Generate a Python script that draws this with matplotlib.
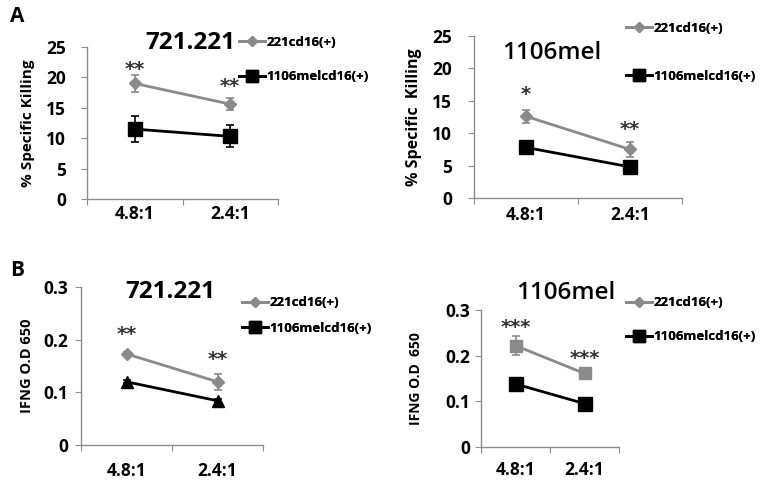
import matplotlib
matplotlib.use("Agg")
import matplotlib.pyplot as plt
from matplotlib.lines import Line2D

plt.rcParams['font.family'] = ['Open Sans', 'DejaVu Sans']

# ---- data ----
ratios = ["4.8:1", "2.4:1"]
series_names = ["221cd16(+)", "1106melcd16(+)"]

kill_721_221 = [19.0, 15.6]
kill_721_221_err = [1.4, 1.0]
kill_721_1106 = [11.5, 10.3]
kill_721_1106_err = [2.2, 1.8]
kill_721_stars = ["**", "**"]

kill_mel_221 = [12.6, 7.5]
kill_mel_221_err = [1.0, 1.1]
kill_mel_1106 = [7.8, 4.8]
kill_mel_1106_err = [1.0, 0.4]
kill_mel_stars = ["*", "**"]

ifng_721_221 = [0.173, 0.120]
ifng_721_221_err = [0.004, 0.015]
ifng_721_1106 = [0.120, 0.084]
ifng_721_1106_err = [0.003, 0.003]
ifng_721_stars = ["**", "**"]

ifng_mel_221 = [0.222, 0.161]
ifng_mel_221_err = [0.020, 0.010]
ifng_mel_1106 = [0.138, 0.095]
ifng_mel_1106_err = [0.004, 0.004]
ifng_mel_stars = ["***", "***"]

GRAY = "#8a8a8a"
BLACK = "#000000"
SPINE = "#8c8c8c"

fig = plt.figure(figsize=(7.68, 4.83), dpi=100)


def panel(rect, gray_vals, gray_err, black_vals, black_err, stars,
          ylim, yticks, yticklabels, ylabel, title, title_xy, title_bold,
          gray_marker, black_marker, star_offsets, leg_y, leg_x,
          ylabel_x, ylabel_size, xpad, ypad):
    ax = fig.add_axes(rect)
    xs = [0.5, 1.5]
    ax.errorbar(xs, gray_vals, yerr=gray_err, color=GRAY, lw=2,
                marker=gray_marker[0], ms=gray_marker[1], ecolor=GRAY,
                elinewidth=1.2, capsize=3, capthick=1.2, zorder=3)
    ax.errorbar(xs, black_vals, yerr=black_err, color=BLACK, lw=2,
                marker=black_marker[0], ms=black_marker[1], ecolor=BLACK,
                elinewidth=1.2, capsize=3, capthick=1.2, zorder=4)
    for x, v, e, s, off in zip(xs, gray_vals, gray_err, stars, star_offsets):
        ax.annotate(s, (x, v + e), xytext=(0, off),
                    textcoords="offset points", ha="center", va="bottom",
                    fontsize=14, fontweight="bold", color="#333333",
                    family="DejaVu Sans")
    ax.set_xlim(0, 2)
    ax.set_ylim(*ylim)
    ax.set_xticks([0, 1, 2])
    ax.set_xticklabels([])
    ax.set_xticks(xs, minor=True)
    ax.set_xticklabels(ratios, minor=True, fontsize=12.5, fontweight="bold")
    ax.tick_params(axis="x", which="minor", length=0, pad=xpad)
    ax.tick_params(axis="x", which="major", length=4, color=SPINE, direction="out")
    ax.set_yticks(yticks)
    ax.set_yticklabels(yticklabels, fontsize=12.5, fontweight="bold")
    ax.tick_params(axis="y", length=4, color=SPINE, pad=ypad)
    for side in ["top", "right"]:
        ax.spines[side].set_visible(False)
    for side in ["left", "bottom"]:
        ax.spines[side].set_color(SPINE)
        ax.spines[side].set_linewidth(1)
    ax.set_ylabel(ylabel, fontsize=ylabel_size, fontweight="bold")
    ax.yaxis.set_label_coords(ylabel_x, 0.5)
    fig.text(title_xy[0], title_xy[1], title, fontsize=17.5,
             fontweight="bold" if title_bold else "semibold",
             ha="center", va="center")
    handles = [Line2D([], [], color=GRAY, lw=2, marker="D", ms=5),
               Line2D([], [], color=BLACK, lw=2, marker="s", ms=8)]
    for h, name, y in zip(handles, series_names, leg_y):
        leg = fig.legend([h], [name], loc="center left",
                         bbox_to_anchor=(leg_x, y), frameon=False,
                         handlelength=2.0, handletextpad=0.1,
                         borderpad=0, borderaxespad=0,
                         prop={"size": 9.5, "weight": "bold"})
        fig.add_artist(leg)
    return ax


W, H = 768.0, 483.0

panel([87 / W, 1 - 199 / H, 191 / W, 152 / H],
      kill_721_221, kill_721_221_err, kill_721_1106, kill_721_1106_err,
      kill_721_stars, (0, 25), [0, 5, 10, 15, 20, 25],
      ["0", "5", "10", "15", "20", "25"], "% Specific Killing",
      "721.221", (190 / W, 1 - 43 / H), True, ("D", 6), ("s", 10),
      [-3, 1.5], [1 - 42 / H, 1 - 77 / H], 239 / W, -0.27, 11, 4, 11)

panel([474 / W, 1 - 198 / H, 208 / W, 162 / H],
      kill_mel_221, kill_mel_221_err, kill_mel_1106, kill_mel_1106_err,
      kill_mel_stars, (0, 25), [0, 5, 10, 15, 20, 25],
      ["0", "5", "10", "15", "20", "25"], "% Specific  Killing",
      "1106mel", (552 / W, 1 - 53 / H), False, ("D", 6), ("s", 10),
      [4, 2], [1 - 28 / H, 1 - 76 / H], 626 / W, -0.25, 11.5, 6, 12)

panel([81 / W, 1 - 445 / H, 182 / W, 158 / H],
      ifng_721_221, ifng_721_221_err, ifng_721_1106, ifng_721_1106_err,
      ifng_721_stars, (0, 0.3), [0, 0.1, 0.2, 0.3],
      ["0", "0.1", "0.2", "0.3"], "IFNG O.D 650",
      "721.221", (170 / W, 1 - 292 / H), True, ("D", 6), ("^", 9),
      [5.5, 3.5], [1 - 303 / H, 1 - 328 / H], 242 / W, -0.26, 10.5, 12, 5)

panel([481 / W, 1 - 447 / H, 138 / W, 137 / H],
      ifng_mel_221, ifng_mel_221_err, ifng_mel_1106, ifng_mel_1106_err,
      ifng_mel_stars, (0, 0.3), [0, 0.1, 0.2, 0.3],
      ["0", "0.1", "0.2", "0.3"], "IFNG O.D  650",
      "1106mel", (566 / W, 1 - 293 / H), False, ("s", 9), ("s", 10),
      [-0.5, 0.5], [1 - 303 / H, 1 - 337 / H], 626 / W, -0.42, 10, 10, 4)

fig.text(10 / W, 1 - 17 / H, "A", fontsize=15, fontweight="bold",
         ha="left", va="center")
fig.text(10 / W, 1 - 270 / H, "B", fontsize=15, fontweight="bold",
         ha="left", va="center")

fig.savefig("out.png", dpi=100)
